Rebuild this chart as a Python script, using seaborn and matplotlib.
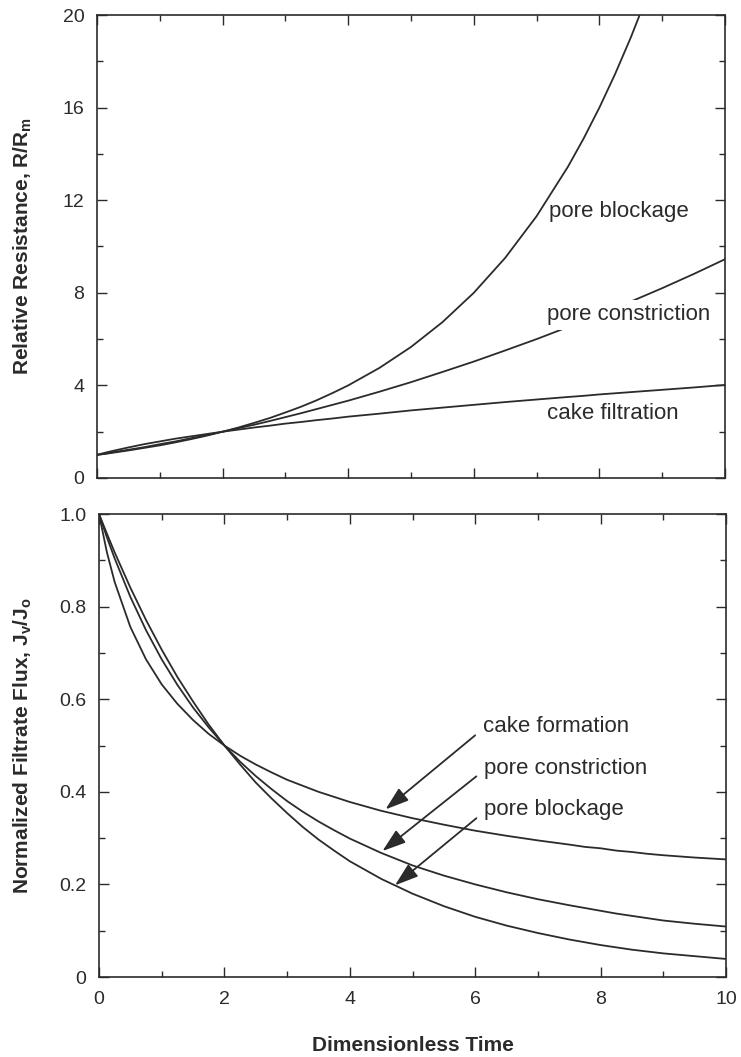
import matplotlib
matplotlib.use("Agg")
import matplotlib.pyplot as plt
from matplotlib.ticker import MultipleLocator
import pandas as pd
import seaborn as sns

# Dimensionless time samples (finer where the curves bend most)
time = [0.0, 0.125, 0.25, 0.5, 0.75, 1.0, 1.25, 1.5, 1.75, 2.0, 2.25, 2.5, 2.75,
        3.0, 3.25, 3.5, 3.75, 4.0, 4.5, 5.0, 5.5, 6.0, 6.5, 7.0, 7.5, 7.75,
        8.0, 8.25, 8.5, 8.75, 9.0, 9.5, 10.0]

# Relative resistance R/Rm
r_pore_blockage = [1.00, 1.04, 1.09, 1.19, 1.30, 1.41, 1.54, 1.68, 1.83, 2.00, 2.18, 2.38, 2.59,
                   2.83, 3.08, 3.36, 3.67, 4.00, 4.76, 5.66, 6.73, 8.00, 9.51, 11.31, 13.45, 14.67,
                   16.00, 17.45, 19.03, 20.75, 22.63, 26.9, 32.0]
r_pore_constriction = [1.00, 1.05, 1.11, 1.22, 1.33, 1.46, 1.58, 1.72, 1.86, 2.00, 2.15, 2.30, 2.46,
                       2.63, 2.80, 2.98, 3.16, 3.34, 3.73, 4.14, 4.58, 5.03, 5.51, 6.00, 6.52, 6.79,
                       7.06, 7.34, 7.62, 7.91, 8.20, 8.81, 9.45]
r_cake_filtration = [1.00, 1.09, 1.17, 1.32, 1.46, 1.58, 1.70, 1.80, 1.90, 2.00, 2.09, 2.18, 2.26,
                     2.35, 2.42, 2.50, 2.57, 2.65, 2.78, 2.92, 3.04, 3.16, 3.28, 3.39, 3.50, 3.55,
                     3.61, 3.66, 3.71, 3.76, 3.81, 3.91, 4.02]

# Normalized filtrate flux Jv/Jo
j_pore_blockage = [1.000, 0.958, 0.917, 0.841, 0.771, 0.707, 0.648, 0.595, 0.545, 0.500, 0.459, 0.420, 0.386,
                   0.354, 0.324, 0.297, 0.273, 0.250, 0.212, 0.180, 0.153, 0.130, 0.111, 0.095, 0.081, 0.075,
                   0.069, 0.064, 0.059, 0.055, 0.051, 0.045, 0.039]
j_pore_constriction = [1.000, 0.950, 0.904, 0.821, 0.749, 0.686, 0.631, 0.582, 0.539, 0.500, 0.465, 0.434, 0.406,
                       0.380, 0.357, 0.336, 0.317, 0.299, 0.268, 0.241, 0.219, 0.200, 0.183, 0.168, 0.155, 0.149,
                       0.143, 0.137, 0.132, 0.127, 0.122, 0.115, 0.109]
j_cake_formation = [1.000, 0.918, 0.853, 0.756, 0.686, 0.632, 0.590, 0.555, 0.525, 0.500, 0.478, 0.459, 0.442,
                    0.426, 0.413, 0.400, 0.389, 0.378, 0.359, 0.343, 0.329, 0.316, 0.305, 0.295, 0.286, 0.281,
                    0.278, 0.273, 0.270, 0.266, 0.263, 0.258, 0.254]

x_ticks = [0, 2, 4, 6, 8, 10]
r_ticks = [0, 4, 8, 12, 16, 20]
j_ticks = [0, 0.2, 0.4, 0.6, 0.8, 1.0]
j_tick_labels = ["0", "0.2", "0.4", "0.6", "0.8", "1.0"]

sns.set_style("ticks")
plt.rcParams["font.family"] = ["Liberation Sans", "DejaVu Sans"]
plt.rcParams["mathtext.fontset"] = "custom"
plt.rcParams["mathtext.rm"] = "Liberation Sans"
plt.rcParams["mathtext.bf"] = "Liberation Sans:bold"

ink = "#2b2b2b"
fig = plt.figure(figsize=(7.41, 10.57), dpi=100)
W, H = 741, 1057
ax1 = fig.add_axes([97 / W, 1 - 478 / H, (725 - 97) / W, (478 - 15) / H])
ax2 = fig.add_axes([99 / W, 1 - 977 / H, (726 - 99) / W, (977 - 514) / H])

n = len(time)
res = pd.DataFrame({"t": time * 3,
                    "R": r_pore_blockage + r_pore_constriction + r_cake_filtration,
                    "mech": ["blockage"] * n + ["constriction"] * n + ["cake"] * n})
flux = pd.DataFrame({"t": time * 3,
                     "J": j_pore_blockage + j_pore_constriction + j_cake_formation,
                     "mech": ["blockage"] * n + ["constriction"] * n + ["cake"] * n})
pal = {"blockage": ink, "constriction": ink, "cake": ink}

sns.lineplot(data=res, x="t", y="R", hue="mech", palette=pal, ax=ax1,
             legend=False, linewidth=1.3, zorder=2)
sns.lineplot(data=flux, x="t", y="J", hue="mech", palette=pal, ax=ax2,
             legend=False, linewidth=1.3, zorder=2)

for ax in (ax1, ax2):
    ax.set_xlim(0, 10)
    ax.set_xticks(x_ticks)
    ax.xaxis.set_minor_locator(MultipleLocator(1))
    ax.tick_params(which="both", direction="in", top=True, right=True,
                   color=ink, labelsize=14, labelcolor=ink)
    ax.tick_params(axis="x", which="major", pad=10)
    ax.tick_params(axis="y", which="major", pad=9)
    ax.tick_params(which="major", length=7, width=1)
    ax.tick_params(which="minor", length=4, width=1)
    for s in ax.spines.values():
        s.set_color(ink)
        s.set_linewidth(1.2)

label_font = dict(fontsize=15, fontweight="bold", color=ink)

ax1.set_ylim(0, 20)
ax1.set_yticks(r_ticks)
ax1.yaxis.set_minor_locator(MultipleLocator(2))
ax1.set_xticklabels([])
ax1.set_xlabel("")
ax1.set_ylabel(r"Relative Resistance, R/R$_\mathbf{m}$", **label_font)
ax1.yaxis.set_label_coords(-0.1, 0.5)

ax2.set_ylim(0, 1.0)
ax2.set_yticks(j_ticks)
ax2.set_yticklabels(j_tick_labels)
ax2.yaxis.set_minor_locator(MultipleLocator(0.1))
ax2.set_xlabel("Dimensionless Time", **label_font)
ax2.xaxis.set_label_coords(0.5, -0.127)
ax2.set_ylabel(r"Normalized Filtrate Flux, J$_\mathbf{v}$/J$_\mathbf{o}$", **label_font)
ax2.yaxis.set_label_coords(-0.103, 0.5)

txt = dict(fontsize=16, color=ink, va="center", ha="left")
ax1.text(7.2, 11.5, "pore blockage", **txt)
ax1.text(7.17, 7.05, "pore constriction", zorder=5,
         bbox=dict(facecolor="white", edgecolor="none", pad=3.0), **txt)
ax1.text(7.17, 2.8, "cake filtration", **txt)

arrow = dict(arrowstyle="-|>,head_length=0.9,head_width=0.3", color=ink,
             lw=1.3, shrinkA=4, shrinkB=0, relpos=(0.0, 0.4))
ax2.annotate("cake formation", xy=(4.57, 0.362), xytext=(6.12, 0.54),
             arrowprops=arrow, **txt)
ax2.annotate("pore constriction", xy=(4.52, 0.272), xytext=(6.14, 0.451),
             arrowprops=arrow, **txt)
ax2.annotate("pore blockage", xy=(4.72, 0.198), xytext=(6.14, 0.361),
             arrowprops=arrow, **txt)

fig.savefig("out.png", dpi=100)
